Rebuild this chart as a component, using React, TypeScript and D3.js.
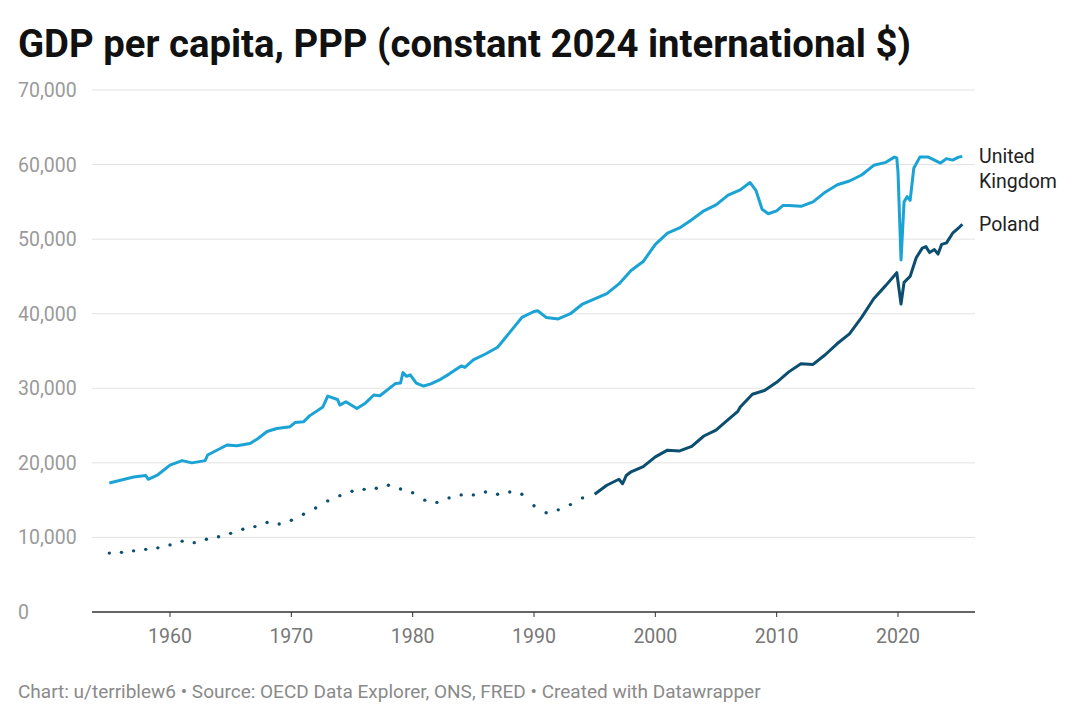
import React from 'react';
import * as d3 from 'd3';

const yTicks = [0, 10000, 20000, 30000, 40000, 50000, 60000, 70000];
const xTicks = [1960, 1970, 1980, 1990, 2000, 2010, 2020];

// Poland annual (dotted) 1955-1994
const polandOldYears = d3.range(1955, 1995);
const polandOldValues = [
  7900, 8000, 8200, 8400, 8600, 9000, 9500, 9300, 9750, 10100,
  10550, 11100, 11450, 12000, 11800, 12300, 13100, 13950, 14900, 15600,
  16200, 16450, 16600, 17000, 16500, 16000, 15000, 14700, 15300, 15700,
  15700, 16100, 15800, 16100, 15800, 14250, 13300, 13700, 14400, 15300,
];

const polandYears = [1995, 1996, 1997, 1997.3, 1997.6, 1998, 1999, 2000, 2001, 2002, 2003, 2004, 2005, 2006, 2006.8, 2007, 2008, 2009, 2010, 2011, 2012, 2013, 2014, 2015, 2016, 2017, 2018, 2019, 2019.9, 2020.25, 2020.5, 2021, 2021.5, 2022, 2022.3, 2022.6, 2023, 2023.3, 2023.6, 2024, 2024.5, 2025, 2025.3];
const polandValues = [15800, 17000, 17800, 17200, 18300, 18800, 19500, 20800, 21700, 21600, 22200, 23600, 24400, 25800, 26900, 27500, 29200, 29700, 30800, 32200, 33300, 33200, 34500, 36000, 37300, 39500, 42000, 43800, 45500, 41300, 44200, 45000, 47500, 48800, 49000, 48200, 48600, 48000, 49300, 49500, 50800, 51500, 52000];

const ukYears = [1955, 1957, 1958, 1958.2, 1959, 1960, 1961, 1961.8, 1962.9, 1963.1, 1964.7, 1965.5, 1966.6, 1967.2, 1968, 1968.8, 1969.9, 1970.3, 1971, 1971.5, 1972.6, 1973, 1973.8, 1974, 1974.5, 1975.4, 1976.1, 1976.8, 1977.3, 1978.6, 1979, 1979.2, 1979.5, 1979.8, 1980.3, 1980.9, 1981.5, 1982.3, 1983, 1984, 1984.3, 1985, 1986, 1987, 1988, 1989, 1990, 1990.3, 1991, 1992, 1993, 1994, 1995, 1996, 1997, 1998, 1999, 2000, 2001, 2002, 2003, 2004, 2005, 2006, 2007, 2007.8, 2008.3, 2008.8, 2009.3, 2010, 2010.5, 2011, 2012, 2013, 2014, 2015, 2016, 2017, 2018, 2019, 2019.7, 2019.9, 2020.0, 2020.25, 2020.5, 2020.75, 2021, 2021.3, 2021.8, 2022.5, 2023, 2023.5, 2024, 2024.5, 2025, 2025.3];
const ukValues = [17300, 18100, 18300, 17800, 18400, 19700, 20300, 20000, 20300, 21050, 22400, 22300, 22600, 23200, 24200, 24600, 24850, 25400, 25500, 26300, 27500, 28950, 28500, 27750, 28200, 27300, 28000, 29100, 29000, 30650, 30700, 32100, 31600, 31800, 30700, 30300, 30600, 31200, 31900, 33000, 32800, 33800, 34600, 35500, 37500, 39500, 40300, 40400, 39500, 39300, 40000, 41300, 42000, 42700, 44000, 45800, 47000, 49300, 50800, 51500, 52600, 53800, 54600, 55900, 56600, 57600, 56500, 54000, 53400, 53800, 54500, 54500, 54400, 55000, 56300, 57300, 57800, 58600, 59900, 60300, 61000, 60900, 59000, 47200, 55000, 55700, 55200, 59500, 61000, 61000, 60600, 60200, 60800, 60600, 61000, 61100];

const UK_COLOR = '#1aa3d4';
const PL_COLOR = '#0b4e70';
const FONT = 'Roboto, sans-serif';

export default function App() {
  const x = d3.scaleLinear().domain([1960, 2020]).range([170, 898]);
  const y = d3.scaleLinear().domain([0, 70000]).range([612, 90]);
  const line = d3
    .line<[number, number]>()
    .x((d) => x(d[0]))
    .y((d) => y(d[1]));
  const ukPath = line(ukYears.map((v, i) => [v, ukValues[i]]))!;
  const plPath = line(polandYears.map((v, i) => [v, polandValues[i]]))!;

  return (
    <svg width={1080} height={722} style={{ position: 'absolute', left: 0, top: 0, fontFamily: FONT }}>
      <rect width={1080} height={722} fill='#fff' />
      <text x={18} y={57} fontSize={38.3} fontWeight={700} fill='#111'>
        GDP per capita, PPP (constant 2024 international $)
      </text>
      {yTicks.map((t) => (
        <g key={t}>
          {t > 0 && <line x1={92} x2={975} y1={y(t)} y2={y(t)} stroke='#e2e2e2' strokeWidth={1} />}
          <text x={18} y={y(t) + 7} fontSize={19.5} fill='#9a9a9a'>
            {d3.format(',')(t)}
          </text>
        </g>
      ))}
      <line x1={92} x2={975} y1={y(0)} y2={y(0)} stroke='#333' strokeWidth={1.3} />
      {xTicks.map((t) => (
        <g key={t}>
          <line x1={x(t)} x2={x(t)} y1={y(0)} y2={y(0) + 5} stroke='#333' strokeWidth={1} />
          <text x={x(t)} y={643} fontSize={19.5} fill='#777' textAnchor='middle'>
            {t}
          </text>
        </g>
      ))}
      {polandOldYears.map((yr, i) => (
        <circle key={yr} cx={x(yr)} cy={y(polandOldValues[i])} r={1.7} fill={PL_COLOR} />
      ))}
      <path d={plPath} fill='none' stroke={PL_COLOR} strokeWidth={3} strokeLinejoin='round' />
      <path d={ukPath} fill='none' stroke={UK_COLOR} strokeWidth={3} strokeLinejoin='round' />
      <text x={979} y={163} fontSize={19.5} fill='#222'>United</text>
      <text x={979} y={188} fontSize={19.5} fill='#222'>Kingdom</text>
      <text x={979} y={231} fontSize={19.5} fill='#222'>Poland</text>
      <text x={18} y={698} fontSize={19} fill='#8a8a8a'>
        Chart: u/terriblew6 • Source: OECD Data Explorer, ONS, FRED • Created with Datawrapper
      </text>
    </svg>
  );
}
